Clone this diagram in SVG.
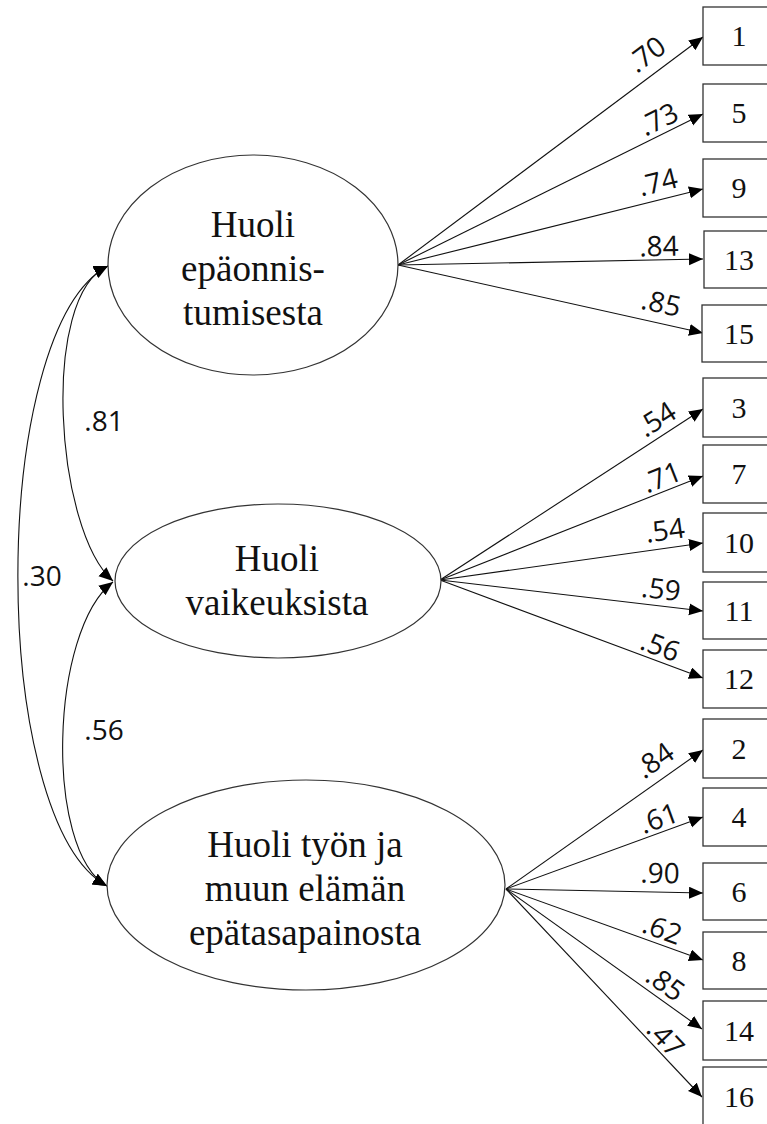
<svg xmlns="http://www.w3.org/2000/svg" width="767" height="1124" viewBox="0 0 767 1124">
<defs>
<marker id="ah" markerUnits="userSpaceOnUse" markerWidth="16" markerHeight="14" refX="14" refY="6" orient="auto-start-reverse" viewBox="0 0 16 14">
<path d="M0,0 L14,6 L0,12 z" fill="#000"/>
</marker>
<style>
.lat ellipse{fill:#fff;stroke:#333;stroke-width:1.2}
.lat text{font-family:"Liberation Serif","Times New Roman",serif;font-size:37px;fill:#111;text-anchor:middle}
.obs rect{fill:#fff;stroke:#333;stroke-width:1.3}
.obs text{font-family:"Liberation Serif","Times New Roman",serif;font-size:30px;fill:#111;text-anchor:middle}
.conn path,.conn line{fill:none;stroke:#111;stroke-width:1.1;marker-end:url(#ah)}
.conn path.cov{marker-start:url(#ah)}
.lbl text{font-family:"Open Sans","DejaVu Sans",sans-serif;font-size:28px;fill:#111;text-anchor:middle}
</style>
</defs>
<rect width="767" height="1124" fill="#fff"/>

<g id="connectors" class="conn">
<line x1="398" y1="265" x2="703" y2="37"/>
<line x1="398" y1="265" x2="703" y2="114"/>
<line x1="398" y1="265" x2="703" y2="189"/>
<line x1="398" y1="265" x2="703" y2="259"/>
<line x1="398" y1="265" x2="703" y2="333"/>
<line x1="440" y1="580" x2="703" y2="409"/>
<line x1="440" y1="580" x2="703" y2="476"/>
<line x1="440" y1="580" x2="703" y2="543"/>
<line x1="440" y1="580" x2="703" y2="611"/>
<line x1="440" y1="580" x2="703" y2="678"/>
<line x1="506" y1="889" x2="703" y2="750"/>
<line x1="506" y1="889" x2="703" y2="817"/>
<line x1="506" y1="889" x2="703" y2="893"/>
<line x1="506" y1="889" x2="703" y2="960"/>
<line x1="506" y1="889" x2="702" y2="1029"/>
<line x1="506" y1="889" x2="702" y2="1097"/>
<path class="cov" d="M108,266 C40,295 55,530 113,581"/>
<path class="cov" d="M113,582 C50,630 44,850 107,886"/>
<path class="cov" d="M108,266 C-12,330 -12,820 107,886"/>
</g>

<g id="labels" class="lbl">
<text transform="translate(647,55) rotate(-36.8)" y="9">.70</text>
<text transform="translate(659,120) rotate(-26.3)" y="9">.73</text>
<text transform="translate(658,183) rotate(-14)" y="9">.74</text>
<text transform="translate(659,247) rotate(-1.1)" y="9">.84</text>
<text transform="translate(661,304) rotate(12.6)" y="9">.85</text>
<text transform="translate(657,420) rotate(-33)" y="9">.54</text>
<text transform="translate(662,478) rotate(-21.6)" y="9">.71</text>
<text transform="translate(665,531) rotate(-8)" y="9">.54</text>
<text transform="translate(661,590) rotate(6.7)" y="9">.59</text>
<text transform="translate(660,647) rotate(20.4)" y="9">.56</text>
<text transform="translate(655,761) rotate(-35.2)" y="9">.84</text>
<text transform="translate(659,819) rotate(-20.1)" y="9">.61</text>
<text transform="translate(660,874) rotate(1.2)" y="9">.90</text>
<text transform="translate(662,930) rotate(19.8)" y="9">.62</text>
<text transform="translate(665,984) rotate(35.5)" y="9">.85</text>
<text transform="translate(665,1039) rotate(46.7)" y="9">.47</text>
<text x="104" y="431">.81</text>
<text x="42" y="586">.30</text>
<text x="104" y="740">.56</text>
</g>

<g id="f1" class="lat">
<ellipse cx="253" cy="265" rx="145" ry="110"/>
<text x="253" y="237">Huoli</text>
<text x="253" y="281">epäonnis-</text>
<text x="253" y="325">tumisesta</text>
</g>
<g id="f2" class="lat">
<ellipse cx="278" cy="581" rx="163" ry="77"/>
<text x="277" y="571">Huoli</text>
<text x="277" y="615">vaikeuksista</text>
</g>
<g id="f3" class="lat">
<ellipse cx="306" cy="885" rx="199" ry="105"/>
<text x="305" y="857">Huoli työn ja</text>
<text x="305" y="901">muun elämän</text>
<text x="305" y="945">epätasapainosta</text>
</g>

<g id="i1" class="obs"><rect x="703" y="7" width="80" height="58"/><text x="739" y="46">1</text></g>
<g id="i5" class="obs"><rect x="703" y="84" width="80" height="58"/><text x="739" y="123">5</text></g>
<g id="i9" class="obs"><rect x="703" y="159" width="80" height="58"/><text x="739" y="198">9</text></g>
<g id="i13" class="obs"><rect x="704" y="231" width="80" height="57"/><text x="739" y="270">13</text></g>
<g id="i15" class="obs"><rect x="702" y="305" width="80" height="57"/><text x="739" y="344">15</text></g>
<g id="i3" class="obs"><rect x="703" y="378" width="80" height="59"/><text x="739" y="418">3</text></g>
<g id="i7" class="obs"><rect x="703" y="445" width="80" height="58"/><text x="739" y="484">7</text></g>
<g id="i10" class="obs"><rect x="703" y="513" width="80" height="59"/><text x="739" y="553">10</text></g>
<g id="i11" class="obs"><rect x="703" y="582" width="80" height="57"/><text x="739" y="621">11</text></g>
<g id="i12" class="obs"><rect x="703" y="650" width="80" height="58"/><text x="739" y="689">12</text></g>
<g id="i2" class="obs"><rect x="703" y="719" width="80" height="59"/><text x="739" y="759">2</text></g>
<g id="i4" class="obs"><rect x="703" y="788" width="80" height="58"/><text x="739" y="827">4</text></g>
<g id="i6" class="obs"><rect x="703" y="863" width="80" height="57"/><text x="739" y="902">6</text></g>
<g id="i8" class="obs"><rect x="703" y="932" width="80" height="57"/><text x="739" y="971">8</text></g>
<g id="i14" class="obs"><rect x="703" y="1001" width="80" height="59"/><text x="739" y="1041">14</text></g>
<g id="i16" class="obs"><rect x="703" y="1067" width="80" height="60"/><text x="739" y="1107">16</text></g>
</svg>
